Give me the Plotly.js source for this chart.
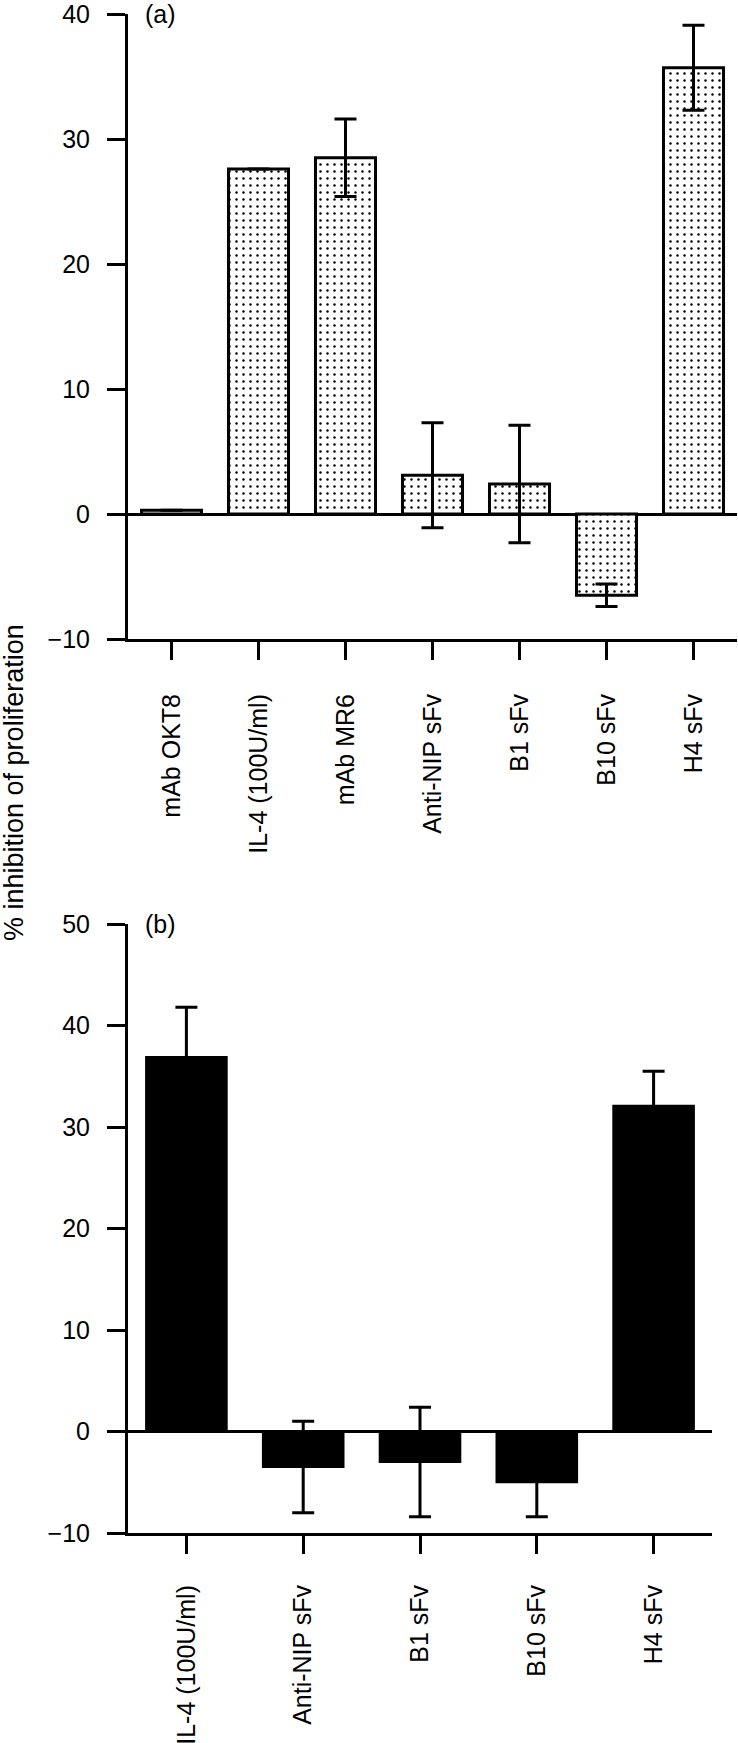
<!DOCTYPE html>
<html><head><meta charset="utf-8">
<script src="https://cdn.plot.ly/plotly-3.0.1.min.js"></script>
<style>html,body{margin:0;padding:0;background:#fff}</style>
</head><body>
<div id="chart" style="width:738px;height:1743px"></div>
<script>
// Panel (a)
const categoriesA = ['mAb OKT8', 'IL-4 (100U/ml)', 'mAb MR6', 'Anti-NIP sFv', 'B1 sFv', 'B10 sFv', 'H4 sFv'];
const valuesA = [0.3, 27.6, 28.5, 3.1, 2.4, -6.5, 35.7];
const errorsA = [null, null, 3.1, 4.2, 4.7, 0.9, 3.4];
const ticksA = [-10, 0, 10, 20, 30, 40];

// Panel (b)
const categoriesB = ['IL-4 (100U/ml)', 'Anti-NIP sFv', 'B1 sFv', 'B10 sFv', 'H4 sFv'];
const valuesB = [36.9, -3.5, -3.0, -5.0, 32.1];
const errorsB = [4.9, 4.5, 5.4, 3.4, 3.4];
const ticksB = [-10, 0, 10, 20, 30, 40, 50];

const yTitle = '% inhibition of proliferation';

const H = 1743;
const font = {family: 'Liberation Sans, Arial, sans-serif', size: 25, color: '#000'};
const titleFont = {family: 'Liberation Sans, Arial, sans-serif', size: 27, color: '#000'};
const base = {
  showline: true, linewidth: 3, linecolor: '#000',
  ticks: 'outside', ticklen: 18, tickwidth: 3, tickcolor: '#000',
  showgrid: false, zeroline: false, tickfont: font, fixedrange: true, automargin: false,
  ticklabeloverflow: 'allow'
};

const traceA = {
  type: 'bar', x: categoriesA, y: valuesA, xaxis: 'x', yaxis: 'y',
  marker: {color: '#fff', line: {color: '#000', width: 3},
    pattern: {shape: '.', fgcolor: '#000', bgcolor: '#fff', size: 7, solidity: 0.1, fillmode: 'replace'}},
  error_y: {type: 'data', array: errorsA, visible: true, color: '#000', thickness: 3, width: 11},
  hoverinfo: 'skip'
};
const traceB = {
  type: 'bar', x: categoriesB, y: valuesB, xaxis: 'x2', yaxis: 'y2',
  marker: {color: '#000', line: {color: '#000', width: 2}},
  error_y: {type: 'data', array: errorsB, visible: true, color: '#000', thickness: 3, width: 11},
  hoverinfo: 'skip'
};

const layout = {
  width: 738, height: H,
  margin: {l: 128, r: 1, t: 0, b: 0},
  paper_bgcolor: '#fff', plot_bgcolor: '#fff',
  showlegend: false, bargap: 0.31,
  font: font,
  xaxis: Object.assign({}, base, {domain: [0, 1], anchor: 'y', range: [-0.5, 6.5], tickangle: -90, ticklabelstandoff: 24}),
  yaxis: Object.assign({}, base, {domain: [1 - 639 / H, 1 - 14 / H], anchor: 'x', range: [-10, 40],
    tickvals: ticksA, zeroline: true, zerolinewidth: 3, zerolinecolor: '#000', ticklabelstandoff: 12}),
  xaxis2: Object.assign({}, base, {domain: [0, 584 / 609], anchor: 'y2', range: [-0.5, 4.5], tickangle: -90, ticklabelstandoff: 21}),
  yaxis2: Object.assign({}, base, {domain: [1 - 1533 / H, 1 - 924 / H], anchor: 'x2', range: [-10, 50],
    tickvals: ticksB, zeroline: true, zerolinewidth: 3, zerolinecolor: '#000', ticklabelstandoff: 12}),
  annotations: [
    {text: '(a)', xref: 'paper', yref: 'paper', x: (143 - 128) / 609, y: 1 - 14 / H, xanchor: 'left', yanchor: 'middle', showarrow: false, font: font},
    {text: '(b)', xref: 'paper', yref: 'paper', x: (143 - 128) / 609, y: 1 - 924 / H, xanchor: 'left', yanchor: 'middle', showarrow: false, font: font},
    {text: yTitle, xref: 'paper', yref: 'paper', x: (14 - 128) / 609, y: 1 - 783 / H, xanchor: 'center', yanchor: 'middle', textangle: -90, showarrow: false, font: titleFont}
  ]
};

Plotly.newPlot('chart', [traceA, traceB], layout, {displayModeBar: false, staticPlot: true});
</script>
</body></html>
